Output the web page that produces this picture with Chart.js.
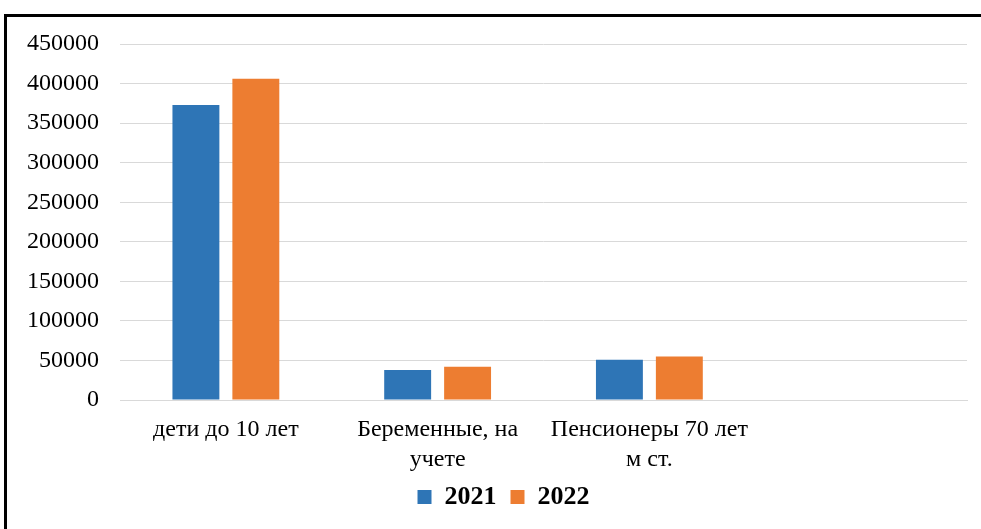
<!DOCTYPE html>
<html><head><meta charset="utf-8">
<script src="https://cdn.jsdelivr.net/npm/chart.js@4/dist/chart.umd.min.js"></script>
<style>
html,body{margin:0;padding:0;background:#fff;overflow:hidden}
#frame{position:absolute;left:4px;top:14px;width:990px;height:540px;border:3px solid #000;box-sizing:border-box}
#wrap{position:absolute;left:0;top:0;width:981px;height:529px}
</style></head>
<body>
<div id="frame"></div>
<div id="wrap"><canvas id="c" width="981" height="529"></canvas></div>
<script>
const categories = [["дети до 10 лет"], ["Беременные, на", "учете"], ["Пенсионеры 70 лет", "м ст."], [""]];
const series2021 = [373000, 38000, 51000, null];
const series2022 = [406000, 42000, 55000, null];
const seriesNames = ["2021", "2022"];
const yTicks = [0, 50000, 100000, 150000, 200000, 250000, 300000, 350000, 400000, 450000];

const FONT = "'Liberation Serif','Times New Roman',serif";
const shiftLegend = {
  id: 'shiftLegend',
  afterLayout(chart) {
    const l = chart.legend;
    if (l) { l.left += 20; l.right += 20; l.top -= 12; l.bottom -= 12; }
  }
};
new Chart(document.getElementById('c'), {
  type: 'bar',
  data: {
    labels: categories,
    datasets: [
      {label: seriesNames[0], data: series2021, backgroundColor: '#2e75b6', categoryPercentage: 0.566, barPercentage: 0.783},
      {label: seriesNames[1], data: series2022, backgroundColor: '#ed7d31', categoryPercentage: 0.566, barPercentage: 0.783}
    ]
  },
  plugins: [shiftLegend],
  options: {
    responsive: false,
    animation: false,
    layout: {padding: {left: 0, right: 14, top: 44, bottom: -3}},
    plugins: {
      legend: {
        position: 'bottom',
        labels: {
          boxWidth: 14, boxHeight: 14, padding: 14, color: '#000',
          font: {family: FONT, size: 26, weight: 'bold'}
        }
      },
      tooltip: {enabled: false}
    },
    scales: {
      x: {
        grid: {display: false},
        border: {display: true, color: '#d9d9d9', width: 1},
        ticks: {color: '#000', font: {family: FONT, size: 24, lineHeight: 1.25}, maxRotation: 0, autoSkip: false, padding: 7}
      },
      y: {
        min: 0, max: 450000,
        afterBuildTicks: s => { s.ticks = yTicks.map(v => ({value: v})); },
        afterFit: s => { s.width = 120; },
        grid: {color: '#d9d9d9', lineWidth: 1, drawTicks: false},
        border: {display: false},
        ticks: {color: '#000', font: {family: FONT, size: 24}, padding: 21, callback: v => String(v)}
      }
    }
  }
});
</script>
</body></html>
